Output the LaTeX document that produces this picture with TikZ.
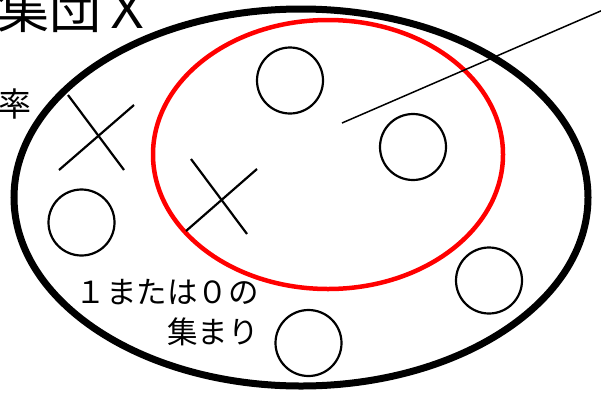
\documentclass[tikz,border=0pt]{standalone}
\usepackage{fontspec}
\newfontfamily\jpfont{Noto Sans CJK JP}
\usetikzlibrary{shapes.geometric}
\tikzset{
  outerset/.style={ellipse, draw=black, line width=7pt, inner sep=0pt, minimum width=574pt, minimum height=377pt},
  redset/.style={ellipse, draw=red, line width=4.5pt, inner sep=0pt, minimum width=350pt, minimum height=269pt},
  elem/.style={circle, draw=black, line width=2.2pt, inner sep=0pt, minimum size=66pt},
  cross/.style={draw=black, line width=2.2pt},
  pointer/.style={draw=black, line width=1.5pt},
  lbl/.style={inner sep=0pt, text=black}
}
\begin{document}
\begin{tikzpicture}[x=1pt,y=-1pt]
\useasboundingbox (0,0) rectangle (601,394);
% sets
\node[outerset] (X) at (301,197.5) {};
\node[redset] (A) at (328,154.5) {};
% elements
\node[elem] (c1) at (290,80.5) {};
\node[elem] (c2) at (413,147) {};
\node[elem] (c3) at (81.5,222.5) {};
\node[elem] (c4) at (489,280.5) {};
\node[elem] (c5) at (308.5,343) {};
% crosses
\coordinate (x1a) at (68,95);
\coordinate (x1b) at (124,170);
\coordinate (x1c) at (59,170);
\coordinate (x1d) at (134,105);
\draw[cross] (x1a) -- (x1b);
\draw[cross] (x1c) -- (x1d);
\coordinate (x2a) at (191,159);
\coordinate (x2b) at (247,234);
\coordinate (x2c) at (186,231);
\coordinate (x2d) at (257,169);
\draw[cross] (x2a) -- (x2b);
\draw[cross] (x2c) -- (x2d);
% pointer line
\coordinate (p1) at (342,123);
\coordinate (p2) at (603,10);
\draw[pointer] (p1) -- (p2);
% texts
\node[lbl, anchor=base west, font=\jpfont\fontsize{52}{52}\selectfont] (title) at (-3,28) {集団Ｘ};
\node[lbl, anchor=base west, font=\jpfont\fontsize{33}{33}\selectfont] (ritsu) at (-2,116) {率};
\node[lbl, anchor=base east, font=\jpfont\fontsize{30.5}{30.5}\selectfont] (t1) at (259,303) {１または０の};
\node[lbl, anchor=base east, font=\jpfont\fontsize{30.5}{30.5}\selectfont] (t2) at (259,343) {集まり};
\end{tikzpicture}
\end{document}
